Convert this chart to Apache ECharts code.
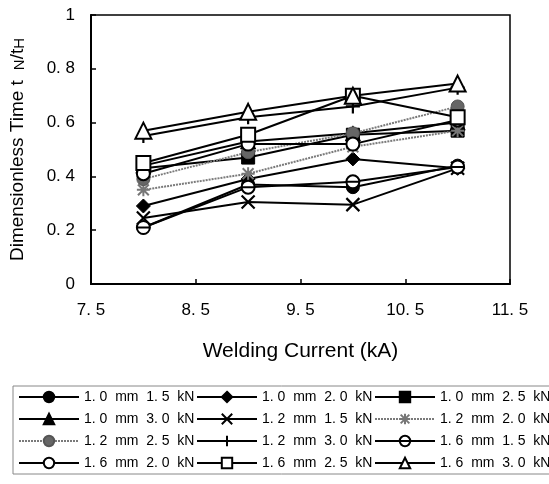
<!DOCTYPE html>
<html>
<head>
<meta charset="utf-8">
<script src="https://cdn.jsdelivr.net/npm/echarts@6/dist/echarts.min.js"></script>
<style>
    html, body { margin: 0; padding: 0; background: #fff; }
    #chart { width: 549px; height: 484px; }
</style>
</head>
<body>
<div id="chart"></div>
<script>
//焊接电流 (kA)
var currentData = [8, 9, 10, 11];
//y轴刻度
var yTickLabels = ['0', '0. 2', '0. 4', '0. 6', '0. 8', '1'];
//x轴刻度
var xTickLabels = ['7. 5', '8. 5', '9. 5', '10. 5', '11. 5'];
//图例名称
var seriesNames = [
    '1. 0  mm  1. 5  kN', '1. 0  mm  2. 0  kN', '1. 0  mm  2. 5  kN',
    '1. 0  mm  3. 0  kN', '1. 2  mm  1. 5  kN', '1. 2  mm  2. 0  kN',
    '1. 2  mm  2. 5  kN', '1. 2  mm  3. 0  kN', '1. 6  mm  1. 5  kN',
    '1. 6  mm  2. 0  kN', '1. 6  mm  2. 5  kN', '1. 6  mm  3. 0  kN'
];
//各系列数值 tN/tH
var d10_15 = [0.21, 0.37, 0.36, 0.44];
var d10_20 = [0.29, 0.39, 0.465, 0.43];
var d10_25 = [0.43, 0.47, 0.555, 0.57];
var d10_30 = [0.44, 0.53, 0.56, 0.60];
var d12_15 = [0.245, 0.305, 0.295, 0.43];
var d12_20 = [0.35, 0.41, 0.51, 0.57];
var d12_25 = [0.39, 0.49, 0.56, 0.66];
var d12_30 = [0.55, 0.62, 0.66, 0.73];
var d16_15 = [0.21, 0.36, 0.38, 0.435];
var d16_20 = [0.41, 0.52, 0.52, 0.61];
var d16_25 = [0.45, 0.555, 0.70, 0.62];
var d16_30 = [0.57, 0.64, 0.70, 0.745];

var seriesValues = [d10_15, d10_20, d10_25, d10_30, d12_15, d12_20,
    d12_25, d12_30, d16_15, d16_20, d16_25, d16_30];

//自定义标记
var symX = 'path://M0,0L10,10M10,0L0,10';
var symPlus = 'path://M5,0L5,10M0,5L10,5';
var symStar = 'path://M0,0L10,10M10,0L0,10M5,-1L5,11M-1,5L11,5';
var symTheta = 'path://M0,5A5,5 0 1 1 10,5A5,5 0 1 1 0,5ZM0,5L10,5';

var blackLine = { color: '#000', width: 2 };
var grayLine = { color: '#7a7a7a', width: 2, type: [2, 1] };
var filled = { color: '#000', borderColor: '#000', borderWidth: 1 };
var hollow = { color: '#fff', borderColor: '#000', borderWidth: 2 };
var strokeOnly = { color: 'none', borderColor: '#000', borderWidth: 2.2 };

//每个系列的样式: [symbol, size, itemStyle, lineStyle]
var seriesStyles = [
    ['circle', 13, filled, blackLine],
    ['diamond', 14, filled, blackLine],
    ['rect', 13, filled, blackLine],
    ['triangle', 15, filled, blackLine],
    [symX, 13, strokeOnly, blackLine],
    [symStar, 13, { color: 'none', borderColor: '#777', borderWidth: 2 }, grayLine],
    ['circle', 13, { color: '#666', borderColor: '#555', borderWidth: 1 }, grayLine],
    [symPlus, 14, strokeOnly, blackLine],
    [symTheta, 13, hollow, blackLine],
    ['circle', 13, hollow, blackLine],
    ['rect', 14, hollow, blackLine],
    ['triangle', 16, hollow, blackLine]
];

function buildSeries() {
    var ary = [];
    for (var i = 0; i < seriesValues.length; i++) {
        var pts = [];
        for (var j = 0; j < currentData.length; j++)
            pts.push([currentData[j], seriesValues[i][j]]);
        ary.push({
            name: seriesNames[i],
            type: 'line',
            data: pts,
            symbol: seriesStyles[i][0],
            symbolSize: seriesStyles[i][1],
            symbolKeepAspect: true,
            showAllSymbol: true,
            itemStyle: seriesStyles[i][2],
            lineStyle: seriesStyles[i][3],
            emphasis: { disabled: true }
        });
    }
    return ary;
}

var myChart = echarts.init(document.getElementById('chart'));

var option = {
    animation: false,
    backgroundColor: '#fff',
    grid: {
        left: 90,
        right: 39,
        top: 15,
        bottom: 200,
        show: true,
        borderColor: '#000',
        borderWidth: 1.5,
        containLabel: false
    },
    legend: {
        left: 13,
        top: 386,
        width: 540,
        padding: [0, 0, 0, 5],
        borderColor: '#888',
        borderWidth: 1,
        itemWidth: 60,
        itemHeight: 13,
        itemGap: 0,
        data: seriesNames,
        textStyle: {
            fontFamily: 'Liberation Sans',
            fontSize: 14,
            color: '#000',
            width: 112,
            lineHeight: 22
        }
    },
    xAxis: {
        type: 'value',
        min: 7.5,
        max: 11.5,
        interval: 1,
        name: 'Welding Current (kA)',
        nameLocation: 'middle',
        nameGap: 57,
        nameTextStyle: {
            fontFamily: 'Liberation Sans',
            fontSize: 21,
            color: '#000'
        },
        axisLine: { lineStyle: { color: '#000', width: 2 } },
        axisTick: { inside: true, length: 5, lineStyle: { color: '#000', width: 1.5 } },
        splitLine: { show: false },
        axisLabel: {
            margin: 18,
            fontFamily: 'Liberation Sans',
            fontSize: 17,
            color: '#000',
            formatter: function (v) {
                return xTickLabels[Math.round(v - 7.5)];
            }
        }
    },
    yAxis: {
        type: 'value',
        min: 0,
        max: 1,
        interval: 0.2,
        name: 'Dimensionless Time t{g| }{s|N}/t{s|H}',
        nameLocation: 'middle',
        nameGap: 64,
        nameTextStyle: {
            fontFamily: 'Liberation Sans',
            fontSize: 19,
            color: '#000',
            rich: {
                g: { fontSize: 19, width: 10 },
                s: { fontFamily: 'Liberation Sans', fontSize: 15, color: '#000', verticalAlign: 'bottom' }
            }
        },
        axisLine: { lineStyle: { color: '#000', width: 2 } },
        axisTick: { inside: true, length: 5, lineStyle: { color: '#000', width: 1.5 } },
        splitLine: { show: false },
        axisLabel: {
            margin: 16,
            fontFamily: 'Liberation Sans',
            fontSize: 17,
            color: '#000',
            formatter: function (v) {
                return yTickLabels[Math.round(v * 5)];
            }
        }
    },
    series: buildSeries()
};

myChart.setOption(option);
</script>
</body>
</html>
